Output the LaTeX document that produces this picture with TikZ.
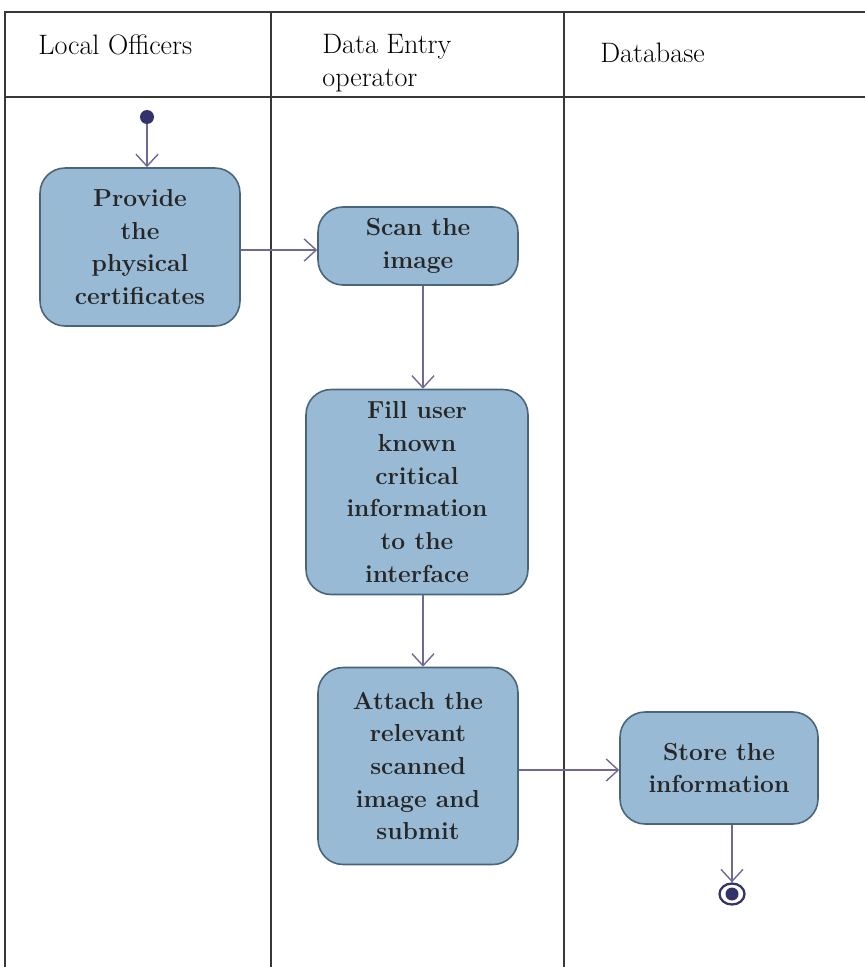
\documentclass[tikz,border=0pt]{standalone}
\usepackage{xcolor}
\usepackage{tikz}
\usetikzlibrary{arrows.meta, positioning, shapes.geometric}

\definecolor{actfill}{RGB}{152,186,212}
\definecolor{actdraw}{RGB}{74,100,122}
\definecolor{flowcol}{RGB}{112,104,150}
\definecolor{dotcol}{RGB}{52,50,108}
\definecolor{lanecol}{RGB}{55,55,55}

\begin{document}
\begin{tikzpicture}[
    x=0.02cm, y=-0.02cm,
    % Caixas de atividade
    action/.style={rectangle, draw=actdraw, line width=0.9pt, rounded corners=0.5cm, fill=actfill, align=center, text=black!85, font=\fontsize{14}{18.6}\selectfont\bfseries, inner sep=2pt},
    % Titulos das raias
    lanetitle/.style={align=left, anchor=west, inner sep=0pt, font=\fontsize{16}{18.4}\selectfont},
    lane/.style={draw=lanecol, line width=0.8pt},
    arrow/.style={-{Straight Barb[length=2.4mm, width=4.4mm]}, draw=flowcol, line width=0.8pt}
]
\useasboundingbox (0,0) rectangle (865,967);

% 1. Raias (swimlanes)
\draw[lane] (5,967) -- (5,12) -- (865,12);
\draw[lane, line width=1.2pt] (5,97) -- (865,97);
\draw[lane] (271,12) -- (271,967);
\draw[lane] (564,12) -- (564,967);

\node[lanetitle] (hdr_officers) at (38,45) {Local Officers};
\node[lanetitle] (hdr_operator) at (322,63) {Data Entry\\operator};
\node[lanetitle] (hdr_database) at (600,53) {Database};

% 2. Inicio
\node[circle, fill=dotcol, minimum size=0.28cm, inner sep=0pt] (start_dot) at (147,117) {};

% 3. Atividades
\node[action, minimum width=4cm, minimum height=3.16cm] (provide) at (140,247) {Provide\\the\\physical\\certificates};
\node[action, minimum width=4cm, minimum height=1.56cm] (scan) at (418,246) {Scan the\\image};
\node[action, minimum width=4.44cm, minimum height=4.1cm] (fill) at (417,492) {Fill user\\known\\critical\\information\\to the\\interface};
\node[action, minimum width=4cm, minimum height=3.94cm] (attach) at (418,766) {Attach the\\relevant\\scanned\\image and\\submit};
\node[action, minimum width=3.96cm, minimum height=2.24cm] (store) at (719,768) {Store the\\information};

% 4. Fim
\node[ellipse, draw=dotcol, line width=1.3pt, minimum width=0.5cm, minimum height=0.42cm, inner sep=0pt] (end_dot) at (732,894) {};
\node[circle, fill=dotcol, minimum size=0.26cm, inner sep=0pt] (end_core) at (end_dot.center) {};

% 5. Setas
\draw[arrow] (start_dot) -- (start_dot |- provide.north);
\draw[arrow] (provide.east |- 0,250) -- (scan.west |- 0,250);
\draw[arrow] (scan.south -| 423,0) -- (fill.north -| 423,0);
\draw[arrow] (fill.south -| 423,0) -- (attach.north -| 423,0);
\draw[arrow] (attach.east |- 0,770) -- (store.west |- 0,770);
\draw[arrow] (store.south -| end_dot.north) -- (end_dot.north);

\end{tikzpicture}
\end{document}
